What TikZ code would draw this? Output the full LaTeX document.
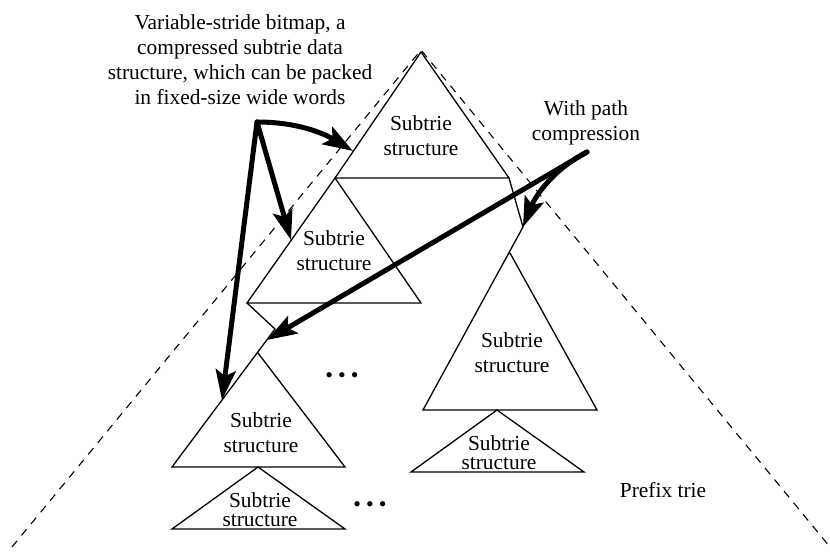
\documentclass[tikz,border=0pt]{standalone}
\usepackage{fontspec}
\setmainfont{Liberation Serif}
\usetikzlibrary{arrows.meta}

\tikzset{
  trie/.style={line width=0.65pt, line join=miter},
  outline/.style={line width=0.55pt, dash pattern=on 4pt off 3.5pt},
  pointer/.style={line width=2.5pt, line cap=round,
    -{Stealth[length=15pt,width=10pt,inset=3pt]}},
  lbl/.style={align=center, inner sep=0pt,
    font=\fontsize{10.7}{12.5}\selectfont},
  small lbl/.style={lbl, font=\fontsize{10.7}{9.6}\selectfont},
  more/.style={inner sep=0pt, font=\fontsize{11}{11}\selectfont},
}

\begin{document}
\begin{tikzpicture}[x=0.5pt,y=-0.5pt]
\useasboundingbox (0,0) rectangle (830,552);

% the whole prefix trie
\coordinate (root) at (421,50);
\draw[outline] (12,547) -- (root) -- (830,547);

% corners of the subtries
\coordinate (a1) at (421,52);  \coordinate (l1) at (335,178); \coordinate (r1) at (509,178);
\coordinate (l2) at (247,303); \coordinate (r2) at (421,303);
\coordinate (k1) at (523,227);
\coordinate (a3) at (510,253); \coordinate (l3) at (423,410); \coordinate (r3) at (597,410);
\coordinate (k2) at (275,329);
\coordinate (a4) at (258,353); \coordinate (l4) at (172,467); \coordinate (r4) at (345,467);
\coordinate (a5) at (258,467); \coordinate (l5) at (172,529); \coordinate (r5) at (345,529);
\coordinate (a6) at (497,410); \coordinate (l6) at (411,472); \coordinate (r6) at (584,472);

\draw[trie] (a1) -- (l1) -- (r1) -- cycle;
\draw[trie] (l1) -- (l2) -- (r2) -- cycle;
\draw[trie] (r1) -- (k1) -- (l3) -- (r3) -- (a3);
\draw[trie] (l2) -- (k2) -- (l4) -- (r4) -- (a4);
\draw[trie] (a5) -- (l5) -- (r5) -- cycle;
\draw[trie] (a6) -- (l6) -- (r6) -- cycle;

\node[lbl] (s1) at (421,136) {Subtrie\\structure};
\node[lbl] (s2) at (334,251) {Subtrie\\structure};
\node[lbl] (s3) at (512,353) {Subtrie\\structure};
\node[lbl] (s4) at (261,433) {Subtrie\\structure};
\node[small lbl] (s5) at (260,510) {Subtrie\\structure};
\node[small lbl] (s6) at (499,453) {Subtrie\\structure};

\node[more] (more1) at (342,378) {\textbullet\hspace{2.5pt}\textbullet\hspace{2.5pt}\textbullet};
\node[more] (more2) at (370,507) {\textbullet\hspace{2.5pt}\textbullet\hspace{2.5pt}\textbullet};

\node[lbl] (bitmap) at (240,60) {Variable-stride bitmap, a\\compressed subtrie data\\structure, which can be packed\\in fixed-size wide words};
\node[lbl] (pathc) at (586,123) {With path\\compression};
\node[lbl] (prefix) at (663,490) {Prefix trie};

% pointers
\coordinate (bsrc) at (257,122);
\coordinate (psrc) at (587,152);
\coordinate (hit1) at (353,151);
\coordinate (hit2) at (291,240);
\coordinate (hit3) at (222,400);
\coordinate (hit4) at (267,340);

\draw[pointer] (bsrc) .. controls +(40,0) and +(-30,-18) .. (hit1);
\draw[pointer] (bsrc) -- (hit2);
\draw[pointer] (bsrc) -- (hit3);
\draw[pointer] (psrc) .. controls +(-35,18) and +(12,-30) .. (k1);
\draw[pointer] (psrc) -- (hit4);
\end{tikzpicture}
\end{document}
